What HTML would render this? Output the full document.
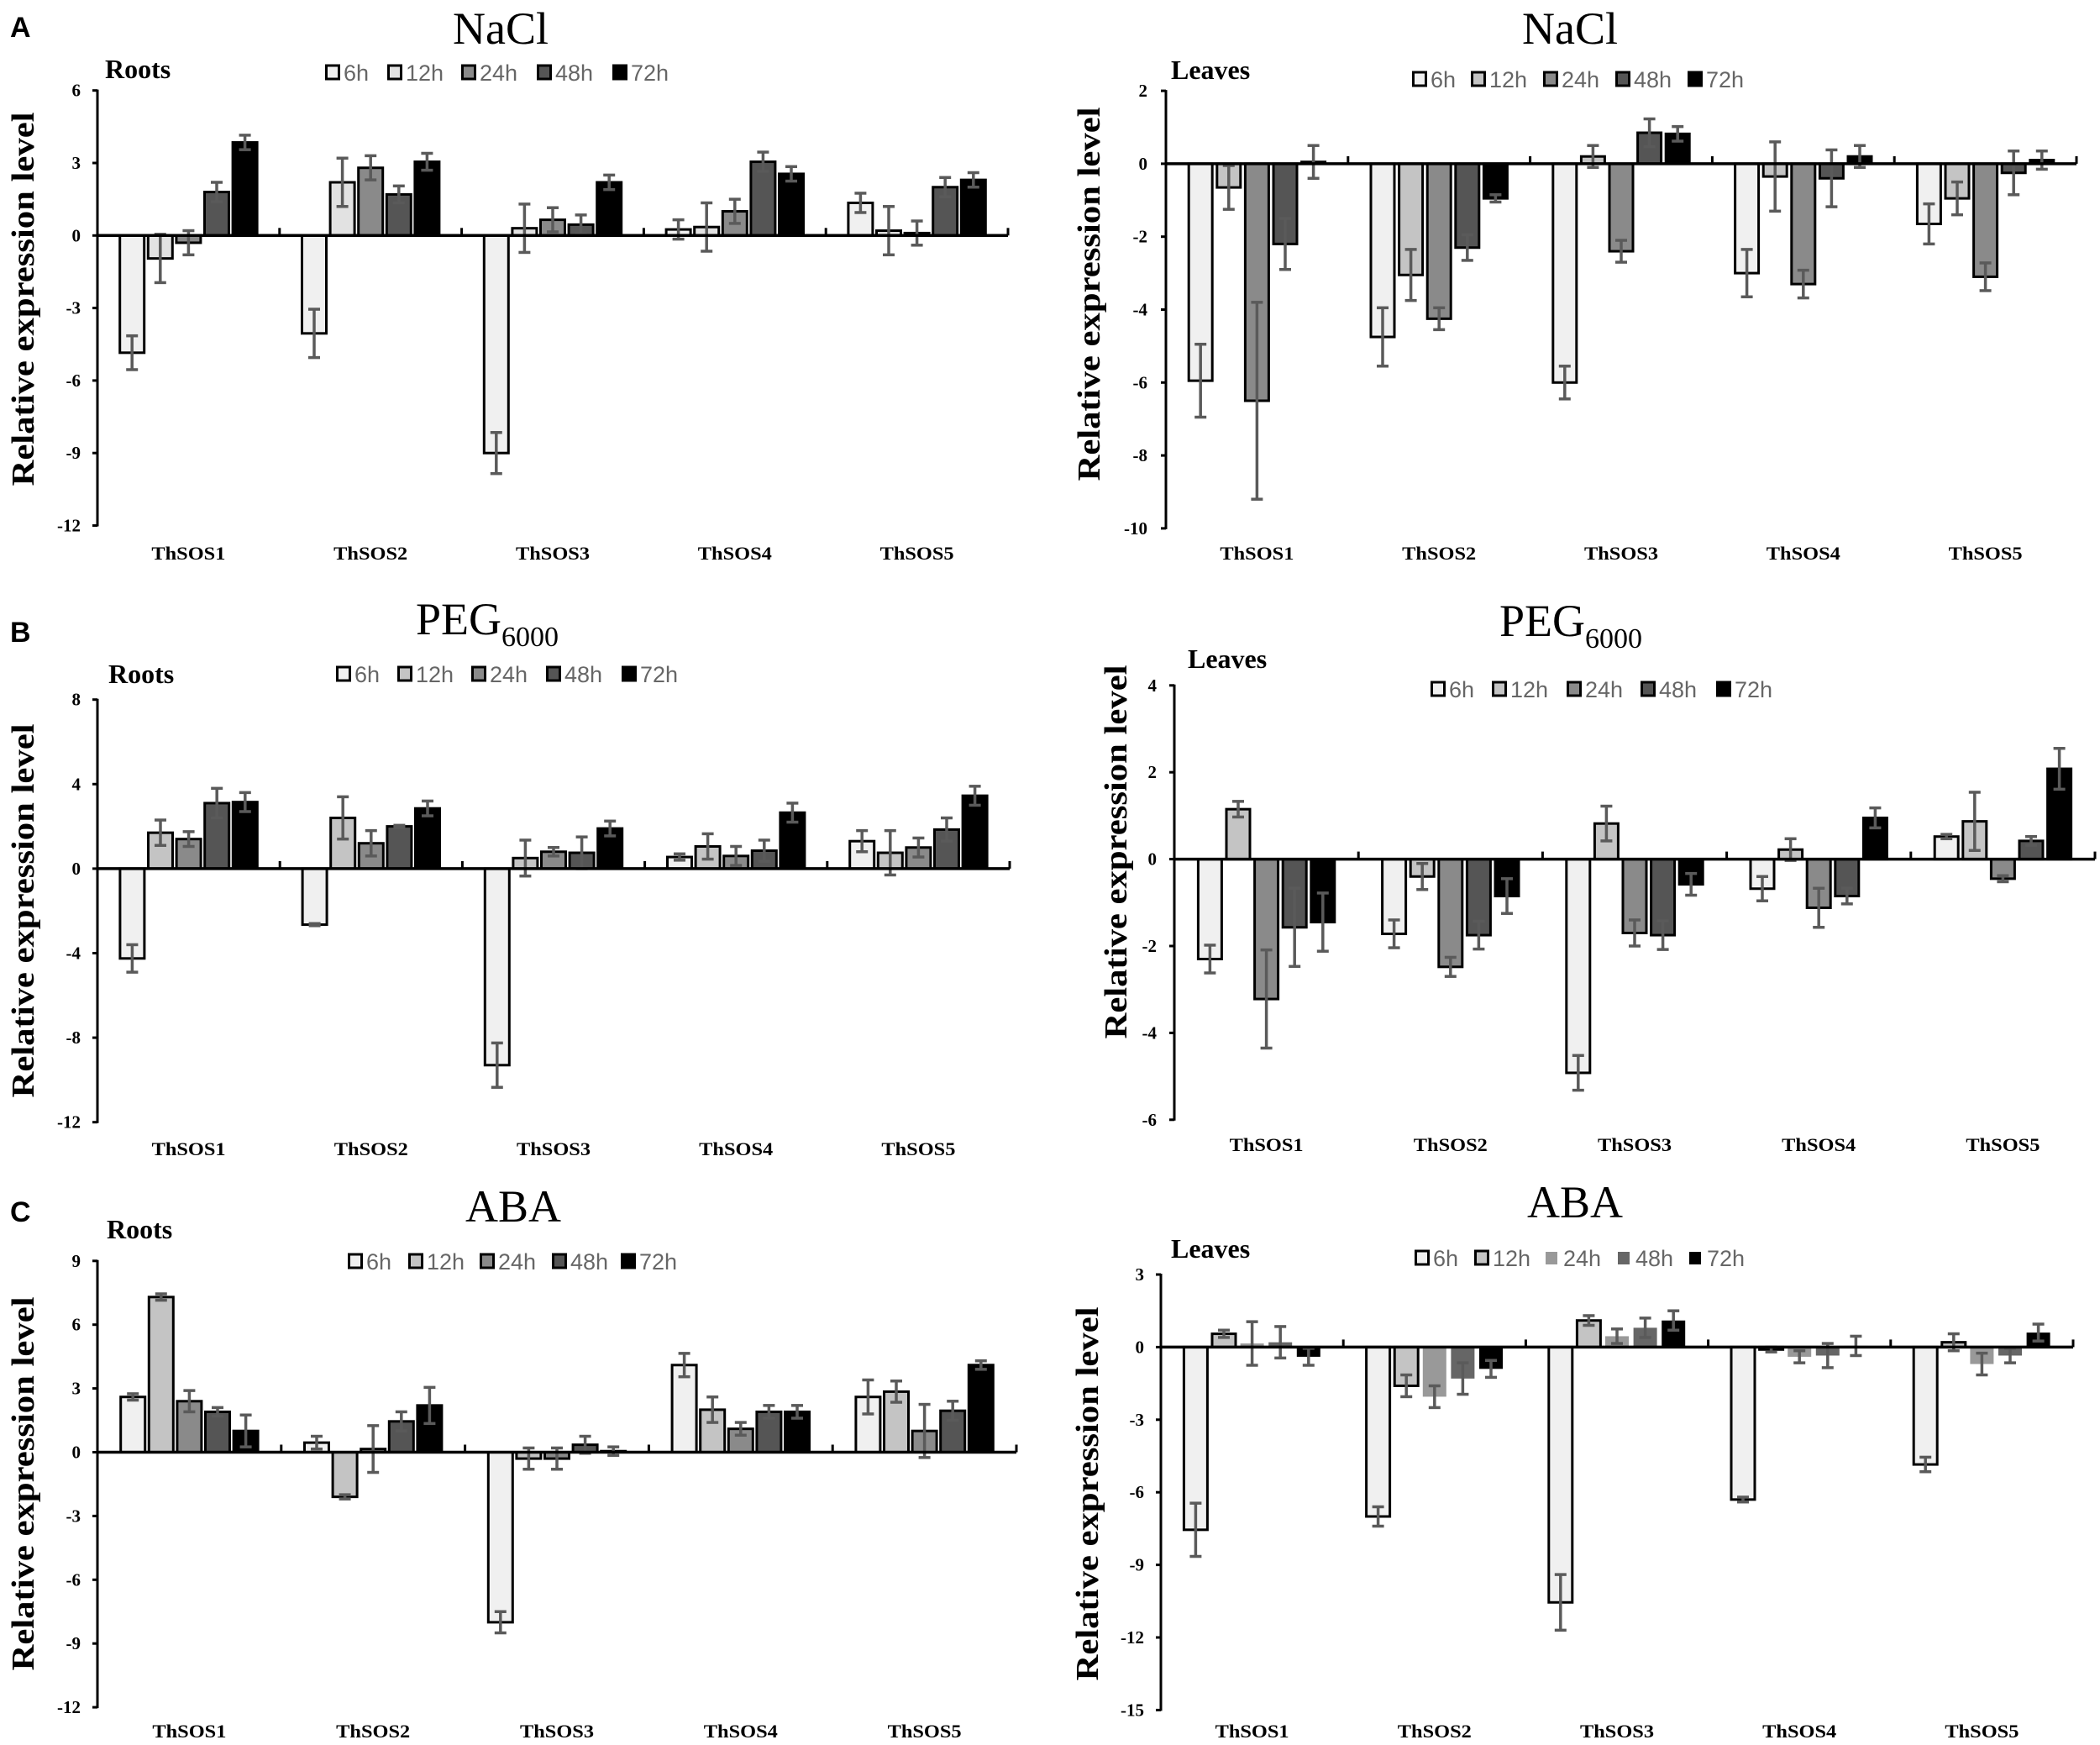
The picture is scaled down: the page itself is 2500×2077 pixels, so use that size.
<!DOCTYPE html>
<html><head><meta charset="utf-8"><style>
html,body{margin:0;padding:0;background:#fff;}
svg{display:block;}
.tk{font-family:"Liberation Serif",serif;font-weight:bold;font-size:21px;fill:#000;}
.cat{font-family:"Liberation Serif",serif;font-weight:bold;font-size:22px;fill:#000;}
.ttl{font-family:"Liberation Serif",serif;font-size:54px;fill:#000;}
.sub{font-family:"Liberation Serif",serif;font-size:34px;fill:#000;}
.tis{font-family:"Liberation Serif",serif;font-weight:bold;font-size:32px;fill:#000;}
.yt{font-family:"Liberation Serif",serif;font-weight:bold;font-size:38px;fill:#000;}
.lg{font-family:"Liberation Sans",sans-serif;font-size:27px;fill:#666;}
.let{font-family:"Liberation Sans",sans-serif;font-weight:bold;font-size:34px;fill:#000;}
</style></head><body>
<svg id="fig" width="2500" height="2077" viewBox="0 0 2500 2077" xmlns="http://www.w3.org/2000/svg">
<rect width="2500" height="2077" fill="#fff"/>
<text class="let" x="12" y="44">A</text>
<text class="let" x="12" y="764">B</text>
<text class="let" x="12" y="1454">C</text>
</svg>
<script>
const categories = ['ThSOS1','ThSOS2','ThSOS3','ThSOS4','ThSOS5'];
const seriesNames = ['6h','12h','24h','48h','72h'];

const naclRootsTicks = [6,3,0,-3,-6,-9,-12];
const naclRootsMean = [[-4.85,-0.95,-0.3,1.8,3.85],[-4.05,2.2,2.8,1.7,3.05],[-9.0,0.3,0.65,0.45,2.2],[0.25,0.35,1.0,3.05,2.55],[1.35,0.2,0.1,2.0,2.3]];
const naclRootsErr = [[0.7,1.0,0.5,0.4,0.3],[1.0,1.0,0.5,0.35,0.35],[0.85,1.0,0.5,0.4,0.3],[0.4,1.0,0.5,0.4,0.3],[0.4,1.0,0.5,0.4,0.3]];

const naclLeavesTicks = [2,0,-2,-4,-6,-8,-10];
const naclLeavesMean = [[-5.95,-0.65,-6.5,-2.2,0.05],[-4.75,-3.05,-4.25,-2.3,-0.95],[-6.0,0.2,-2.4,0.85,0.82],[-3.0,-0.35,-3.3,-0.4,0.2],[-1.65,-0.95,-3.1,-0.25,0.1]];
const naclLeavesErr = [[1.0,0.6,2.7,0.7,0.45],[0.8,0.7,0.3,0.35,0.1],[0.45,0.3,0.3,0.38,0.2],[0.65,0.95,0.38,0.78,0.3],[0.55,0.45,0.38,0.6,0.25]];

const pegRootsTicks = [8,4,0,-4,-8,-12];
const pegRootsMean = [[-4.25,1.7,1.4,3.1,3.15],[-2.65,2.4,1.2,2.0,2.85],[-9.3,0.5,0.8,0.75,1.9],[0.55,1.05,0.6,0.85,2.65],[1.3,0.75,1.0,1.85,3.45]];
const pegRootsErr = [[0.65,0.6,0.35,0.7,0.45],[0.05,1.0,0.6,0.05,0.35],[1.05,0.85,0.2,0.75,0.35],[0.15,0.6,0.45,0.5,0.45],[0.5,1.05,0.45,0.55,0.45]];

const pegLeavesTicks = [4,2,0,-2,-4,-6];
const pegLeavesMean = [[-2.3,1.15,-3.22,-1.57,-1.45],[-1.72,-0.4,-2.48,-1.75,-0.85],[-4.92,0.82,-1.7,-1.75,-0.58],[-0.68,0.22,-1.12,-0.85,0.95],[0.52,0.87,-0.45,0.42,2.08]];
const pegLeavesErr = [[0.32,0.18,1.13,0.9,0.67],[0.32,0.3,0.22,0.32,0.4],[0.4,0.4,0.3,0.33,0.25],[0.28,0.25,0.45,0.18,0.23],[0.05,0.67,0.07,0.1,0.47]];

const abaRootsTicks = [9,6,3,0,-3,-6,-9,-12];
const abaRootsMean = [[2.6,7.3,2.4,1.9,1.0],[0.45,-2.1,0.15,1.45,2.2],[-8.0,-0.3,-0.3,0.35,0.05],[4.1,2.0,1.1,1.9,1.9],[2.6,2.85,1.0,1.95,4.1]];
const abaRootsErr = [[0.15,0.15,0.5,0.2,0.75],[0.3,0.1,1.1,0.45,0.85],[0.5,0.5,0.5,0.4,0.2],[0.55,0.6,0.3,0.3,0.3],[0.8,0.5,1.25,0.45,0.2]];

const abaLeavesTicks = [3,0,-3,-6,-9,-12,-15];
const abaLeavesMean = [[-7.55,0.55,0.15,0.2,-0.4],[-7.0,-1.6,-2.05,-1.3,-0.9],[-10.55,1.1,0.45,0.8,1.1],[-6.3,-0.1,-0.4,-0.35,0.05],[-4.85,0.2,-0.7,-0.35,0.6]];
const abaLeavesErr = [[1.1,0.15,0.9,0.65,0.35],[0.4,0.45,0.45,0.65,0.35],[1.15,0.2,0.3,0.4,0.4],[0.1,0.1,0.25,0.5,0.4],[0.3,0.35,0.45,0.3,0.35]];

const svg = document.getElementById('fig');
const NS = 'http://www.w3.org/2000/svg';
function mk(tag, attrs, parent){
  const e = document.createElementNS(NS, tag);
  for (const k in attrs) e.setAttribute(k, attrs[k]);
  (parent||svg).appendChild(e);
  return e;
}

const panels = [
 {id:'nacl-roots', ticks:naclRootsTicks, mean:naclRootsMean, err:naclRootsErr, ax:116, axEnd:1200, y0:280.3, unit:28.77, bw:29,
  fills:['#f0f0f0','#e2e2e2','#8a8a8a','#555','#000'], border:[1,1,1,1,1],
  title:'NaCl', sub:'', tx:596, ty:52, tis:'Roots', tisx:125, tisy:93, lgx:[387,461,549,639,729], lgy:86, ytx:27, yty:356, tickR:96, catY:666},
 {id:'nacl-leaves', ticks:naclLeavesTicks, mean:naclLeavesMean, err:naclLeavesErr, ax:1388, axEnd:2472, y0:194.9, unit:43.4, bw:28,
  fills:['#f0f0f0','#c4c4c4','#8a8a8a','#555','#000'], border:[1,1,1,1,1],
  title:'NaCl', sub:'', tx:1869, ty:52, tis:'Leaves', tisx:1394, tisy:94, lgx:[1681,1751,1837,1923,2009], lgy:94, ytx:1296, yty:350, tickR:1366, catY:666},
 {id:'peg-roots', ticks:pegRootsTicks, mean:pegRootsMean, err:pegRootsErr, ax:116, axEnd:1202, y0:1033.9, unit:25.15, bw:29,
  fills:['#f0f0f0','#c4c4c4','#8a8a8a','#555','#000'], border:[1,1,1,1,1],
  title:'PEG', sub:'6000', tx:580, ty:755, tis:'Roots', tisx:129, tisy:813, lgx:[400,473,561,650,740], lgy:802, ytx:27, yty:1084, tickR:96, catY:1375},
 {id:'peg-leaves', ticks:pegLeavesTicks, mean:pegLeavesMean, err:pegLeavesErr, ax:1398, axEnd:2494, y0:1022.6, unit:51.7, bw:28,
  fills:['#f0f0f0','#c4c4c4','#8a8a8a','#555','#000'], border:[1,1,1,1,1],
  title:'PEG', sub:'6000', tx:1870, ty:757, tis:'Leaves', tisx:1414, tisy:795, lgx:[1703,1776,1865,1953,2043], lgy:820, ytx:1328, yty:1014, tickR:1377, catY:1370},
 {id:'aba-roots', ticks:abaRootsTicks, mean:abaRootsMean, err:abaRootsErr, ax:116, axEnd:1210, y0:1728.5, unit:25.3, bw:29,
  fills:['#f0f0f0','#c4c4c4','#8a8a8a','#555','#000'], border:[1,1,1,1,1],
  title:'ABA', sub:'', tx:611, ty:1454, tis:'Roots', tisx:127, tisy:1474, lgx:[414,486,571,657,739], lgy:1501, ytx:27, yty:1766, tickR:96, catY:2068},
 {id:'aba-leaves', ticks:abaLeavesTicks, mean:abaLeavesMean, err:abaLeavesErr, ax:1382, axEnd:2468, y0:1603.4, unit:28.8, bw:28,
  fills:['#f0f0f0','#c4c4c4','#999','#666','#000'], border:[1,1,0,0,0],
  title:'ABA', sub:'', tx:1875, ty:1449, tis:'Leaves', tisx:1394, tisy:1497, lgx:[1684,1755,1839,1925,2010], lgy:1497, ytx:1294, yty:1778, tickR:1362, catY:2068}
];

panels.forEach(p => {
  const g = mk('g', {});
  
  
  const yS = v => p.y0 - v * p.unit;
  const slot = (p.axEnd - p.ax) / 5;
  const pitch = 33.6;
  const tMax = Math.max(...p.ticks), tMin = Math.min(...p.ticks);

  const t = mk('text', {class:'ttl', x:p.tx, y:p.ty, 'text-anchor':'middle'}, g);
  
  
  t.textContent = p.title;
  if (p.sub) {
    const ts = mk('tspan', {class:'sub', dy:14}, t);
    ts.textContent = p.sub;
  }
  const tl = mk('text', {class:'tis', x:p.tisx, y:p.tisy}, g);
  
  
  tl.textContent = p.tis;
  seriesNames.forEach((s, i) => {
    const lg = mk('g', {}, g);
    
    
    if (p.border[i]) mk('rect', {x:p.lgx[i]+1.5, y:p.lgy-8, width:15, height:16, fill:p.fills[i], stroke:'#000', 'stroke-width':3}, lg);
    else mk('rect', {x:p.lgx[i]+1, y:p.lgy-7, width:14, height:15, fill:p.fills[i]}, lg);
    const lt = mk('text', {class:'lg', x:p.lgx[i]+22, y:p.lgy+10}, lg);
    lt.textContent = s;
  });
  const yt = mk('text', {class:'yt', x:0, y:0, 'text-anchor':'middle', transform:`translate(${p.ytx+13},${p.yty}) rotate(-90)`, textLength:445, lengthAdjust:'spacingAndGlyphs'}, g);
  
  
  yt.textContent = 'Relative expression level';
  const ya = mk('line', {x1:p.ax, y1:yS(tMax)-1, x2:p.ax, y2:yS(tMin)+1, stroke:'#000', 'stroke-width':3}, g);
  
  
  p.ticks.forEach(v => {
    mk('line', {x1:p.ax-6, y1:yS(v), x2:p.ax, y2:yS(v), stroke:'#000', 'stroke-width':3}, g);
    const tt = mk('text', {class:'tk', x:p.tickR, y:yS(v)+7, 'text-anchor':'end'}, g);
    
    
    tt.textContent = String(v);
  });
  categories.forEach((c, ci) => {
    const cx = p.ax + slot * (ci + 0.5);
    p.mean[ci].forEach((v, si) => {
      const bx = cx + (si - 2) * pitch;
      const top = Math.min(yS(v), yS(0)), h = Math.abs(yS(v) - yS(0));
      const r = mk('rect', {x:bx - p.bw/2, y:top, width:p.bw, height:Math.max(h,0.5), fill:p.fills[si]}, g);
      if (p.border[si]) { r.setAttribute('stroke', '#000'); r.setAttribute('stroke-width', 3); }
      
      
      const e = p.err[ci][si];
      const eb = mk('g', {stroke:'#5a5a5a', 'stroke-width':3.5}, g);
      
      
      mk('line', {x1:bx, y1:yS(v+e), x2:bx, y2:yS(v-e)}, eb);
      mk('line', {x1:bx-7, y1:yS(v+e), x2:bx+7, y2:yS(v+e)}, eb);
      mk('line', {x1:bx-7, y1:yS(v-e), x2:bx+7, y2:yS(v-e)}, eb);
    });
    const cl = mk('text', {class:'cat', x:cx, y:p.catY, 'text-anchor':'middle', textLength:88, lengthAdjust:'spacingAndGlyphs'}, g);
    
    
    cl.textContent = c;
  });
  const xa = mk('line', {x1:p.ax, y1:yS(0), x2:p.axEnd, y2:yS(0), stroke:'#000', 'stroke-width':3.5}, g);
  
  
  for (let k = 1; k <= 5; k++) {
    const x = p.ax + slot * k;
    mk('line', {x1:x, y1:yS(0)-9, x2:x, y2:yS(0), stroke:'#000', 'stroke-width':3}, g);
  }
});
</script>
</body></html>
